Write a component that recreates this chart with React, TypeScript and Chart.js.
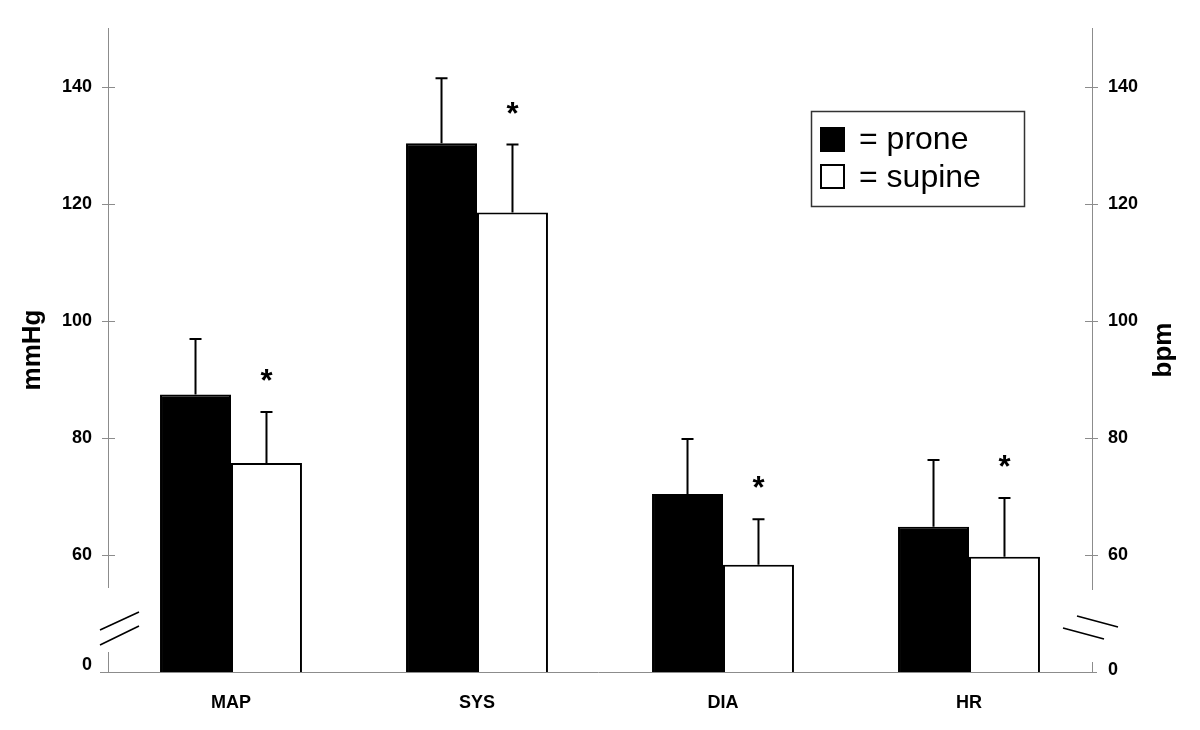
import React, { useEffect, useRef } from "react";
import { Chart, registerables } from "chart.js";

Chart.register(...registerables);

const categories = ["MAP", "SYS", "DIA", "HR"];
const proneMean = [87.4, 130.3, 70.4, 64.8];
const proneSD = [9.5, 11.1, 9.4, 11.4];
const supineMean = [75.7, 118.5, 58.3, 59.7];
const supineSD = [8.7, 11.6, 7.8, 10.0];
const significant = [true, true, true, true];
const seriesLabels = ["= prone", "= supine"];
const yTickValues = [60, 80, 100, 120, 140];
const breakTickLabel = "0";
const leftTitle = "mmHg";
const rightTitle = "bpm";

const FONT = "'Liberation Sans', Arial, Helvetica, sans-serif";
const AXIS_GRAY = "#8c8c8c";

const overlayPlugin = {
  id: "overlay",
  afterDatasetsDraw(chart: any) {
    const ctx = chart.ctx;
    const y = chart.scales.y;
    const area = chart.chartArea;
    ctx.save();

    // error bars
    const sds = [proneSD, supineSD];
    const means = [proneMean, supineMean];
    ctx.strokeStyle = "#000";
    ctx.lineWidth = 2;
    for (let d = 0; d < 2; d++) {
      const meta = chart.getDatasetMeta(d);
      meta.data.forEach((bar: any, i: number) => {
        const top = y.getPixelForValue(means[d][i]);
        const cap = y.getPixelForValue(means[d][i] + sds[d][i]);
        ctx.beginPath();
        ctx.moveTo(bar.x, top);
        ctx.lineTo(bar.x, cap);
        ctx.moveTo(bar.x - 6, cap);
        ctx.lineTo(bar.x + 6, cap);
        ctx.stroke();
        if (d === 1 && significant[i]) {
          ctx.fillStyle = "#000";
          ctx.font = `bold 31px ${FONT}`;
          ctx.textAlign = "center";
          ctx.textBaseline = "alphabetic";
          ctx.fillText("*", bar.x, cap - 21);
        }
      });
    }

    // axes
    ctx.strokeStyle = AXIS_GRAY;
    ctx.lineWidth = 1;
    const L = area.left, R = area.right, B = area.bottom, T = area.top;
    ctx.beginPath();
    ctx.moveTo(L + 0.5, T);
    ctx.lineTo(L + 0.5, 588);
    ctx.moveTo(L + 0.5, 652);
    ctx.lineTo(L + 0.5, B);
    ctx.moveTo(R + 0.5, T);
    ctx.lineTo(R + 0.5, 590);
    ctx.moveTo(R + 0.5, 662);
    ctx.lineTo(R + 0.5, B);
    ctx.moveTo(L - 8, B + 0.5);
    ctx.lineTo(R + 5, B + 0.5);
    yTickValues.forEach((v) => {
      const py = Math.round(y.getPixelForValue(v)) + 0.5;
      ctx.moveTo(L - 6, py);
      ctx.lineTo(L + 7, py);
      ctx.moveTo(R - 7, py);
      ctx.lineTo(R + 6, py);
    });
    ctx.stroke();

    // break marks
    ctx.strokeStyle = "#000";
    ctx.lineWidth = 1.6;
    ctx.beginPath();
    ctx.moveTo(L - 8, 630);
    ctx.lineTo(L + 31, 612);
    ctx.moveTo(L - 8, 645);
    ctx.lineTo(L + 31, 626);
    ctx.moveTo(R - 15, 616);
    ctx.lineTo(R + 26, 627);
    ctx.moveTo(R - 29, 628);
    ctx.lineTo(R + 12, 639);
    ctx.stroke();

    // axis titles
    ctx.fillStyle = "#000";
    ctx.font = `bold 26px ${FONT}`;
    ctx.textAlign = "center";
    ctx.textBaseline = "middle";
    ctx.save();
    ctx.translate(33, 350);
    ctx.rotate(-Math.PI / 2);
    ctx.fillText(leftTitle, 0, 0);
    ctx.restore();
    ctx.save();
    ctx.translate(1164, 350);
    ctx.rotate(-Math.PI / 2);
    ctx.fillText(rightTitle, 0, 0);
    ctx.restore();

    // legend
    ctx.strokeStyle = "#333";
    ctx.lineWidth = 1.5;
    ctx.strokeRect(811.5, 111.5, 213, 95);
    ctx.fillStyle = "#000";
    ctx.fillRect(820, 127, 25, 25);
    ctx.lineWidth = 2;
    ctx.strokeStyle = "#000";
    ctx.strokeRect(821, 165, 23, 23);
    ctx.font = `32px ${FONT}`;
    ctx.textAlign = "left";
    ctx.textBaseline = "alphabetic";
    ctx.fillText(seriesLabels[0], 859, 149);
    ctx.fillText(seriesLabels[1], 859, 187);

    ctx.restore();
  },
};

export default function App() {
  const ref = useRef<HTMLCanvasElement>(null);
  useEffect(() => {
    document.body.style.margin = "0";
    const yTickFont = { family: FONT, size: 18, weight: "bold" as const };
    const makeY = (position: "left" | "right", breakPos: number) => ({
      type: "linear" as const,
      position,
      min: 40,
      max: 150,
      grid: { display: false, drawTicks: false },
      border: { display: false },
      afterFit: (s: any) => {
        s.width = 108;
      },
      afterBuildTicks: (s: any) => {
        s.ticks = [breakPos, ...yTickValues].map((v) => ({ value: v }));
      },
      ticks: {
        padding: 16,
        color: "#000",
        font: yTickFont,
        callback: (v: any) => (v < 50 ? breakTickLabel : String(v)),
      },
    });
    const chart = new Chart(ref.current!, {
      type: "bar",
      data: {
        labels: categories,
        datasets: [
          {
            label: seriesLabels[0],
            data: proneMean,
            backgroundColor: "#000",
            borderColor: "#000",
            borderWidth: 2,
            categoryPercentage: 0.577,
            barPercentage: 1,
          },
          {
            label: seriesLabels[1],
            data: supineMean,
            backgroundColor: "#fff",
            borderColor: "#000",
            borderWidth: 2,
            categoryPercentage: 0.577,
            barPercentage: 1,
          },
        ],
      },
      options: {
        responsive: false,
        animation: false,
        layout: { padding: { top: 28, left: 0, right: 0, bottom: 0 } },
        plugins: { legend: { display: false }, tooltip: { enabled: false } },
        scales: {
          x: {
            grid: { display: false, drawTicks: false },
            border: { display: false },
            afterFit: (s: any) => {
              s.height = 58;
            },
            ticks: {
              padding: 20,
              color: "#000",
              font: { family: FONT, size: 18, weight: "bold" },
              maxRotation: 0,
              autoSkip: false,
            },
          },
          y: makeY("left", 41.2),
          y2: makeY("right", 40.4),
        },
      },
      plugins: [overlayPlugin],
    });
    return () => chart.destroy();
  }, []);
  return (
    <div style={{ width: 1200, height: 730, background: "#fff" }}>
      <canvas ref={ref} width={1200} height={730} style={{ display: "block" }} />
    </div>
  );
}
